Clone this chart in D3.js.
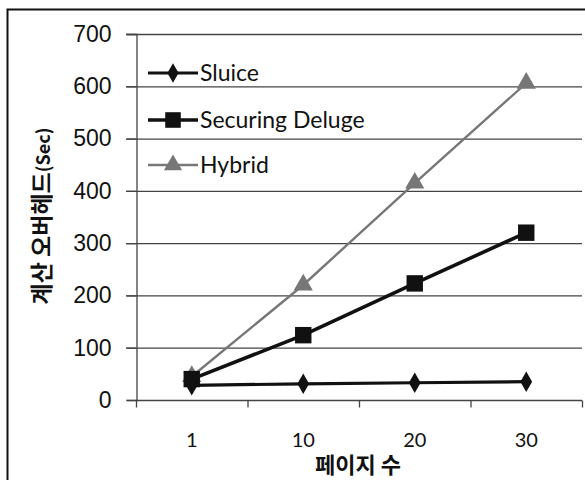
<!DOCTYPE html>
<html>
<head>
<meta charset="utf-8">
<style>
  body { margin: 0; background: #fff; }
  svg { font-family: Lato, "Noto Sans", sans-serif; }
</style>
</head>
<body>
<div id="chart"></div>
<script src="https://d3js.org/d3.v7.min.js"></script>
<script>
var categories = ["1", "10", "20", "30"];
var sluice = [28, 31, 33, 35];
var deluge = [40, 124, 223, 320];
var hybrid = [45, 220, 415, 606];
var yTicks = [0, 100, 200, 300, 400, 500, 600, 700];
var seriesNames = ["Sluice", "Securing Deluge", "Hybrid"];

var width = 585, height = 480;
var svg = d3.select("#chart").append("svg")
  .attr("width", width).attr("height", height);

// outer frame (continues past the right/bottom edge)
svg.append("rect")
  .attr("x", 7.5).attr("y", 9.5).attr("width", 600).attr("height", 500)
  .attr("fill", "none").attr("stroke", "#111").attr("stroke-width", 2);

var x = d3.scaleBand().domain(categories).range([136, 582]);
var y = d3.scaleLinear().domain([0, 700]).range([400, 34]);

// gridlines
svg.append("g")
  .selectAll("line").data(yTicks.slice(1)).enter().append("line")
  .attr("x1", 126).attr("x2", 582)
  .attr("y1", d => y(d) + 0.5).attr("y2", d => y(d) + 0.5)
  .attr("stroke", "#444").attr("stroke-width", 1.3);

// y axis
var yAxis = svg.append("g").attr("transform", "translate(136.5,0)")
  .call(d3.axisLeft(y).tickValues(yTicks).tickSize(10).tickPadding(15));
yAxis.select(".domain").attr("stroke", "#444").attr("stroke-width", 1.3);
yAxis.selectAll(".tick line").attr("stroke", "#444").attr("stroke-width", 1.3);
yAxis.selectAll("text").attr("font-size", 23).attr("fill", "#111");

// x axis
var xAxis = svg.append("g").attr("transform", "translate(0,400.5)");
xAxis.append("line").attr("x1", 136).attr("x2", 582)
  .attr("stroke", "#444").attr("stroke-width", 1.3);
var tickPos = categories.map(c => x(c)).concat([x.range()[1]]);
xAxis.selectAll("line.tk").data(tickPos).enter().append("line")
  .attr("class", "tk")
  .attr("x1", d => d + 0.5).attr("x2", d => d + 0.5)
  .attr("y1", 0).attr("y2", 7)
  .attr("stroke", "#444").attr("stroke-width", 1.3);
xAxis.selectAll("text").data(categories).enter().append("text")
  .attr("x", d => x(d) + x.bandwidth() / 2)
  .attr("y", 46)
  .attr("text-anchor", "middle")
  .attr("font-size", 20).attr("fill", "#111")
  .text(d => d);

// axis titles
svg.append("text")
  .attr("x", 358).attr("y", 473)
  .attr("text-anchor", "middle")
  .attr("font-family", "'Noto Sans CJK KR', sans-serif")
  .attr("font-weight", "bold").attr("font-size", 22).attr("fill", "#111")
  .text("페이지 수");

var yt = svg.append("text")
  .attr("transform", "translate(50,216) rotate(-90)")
  .attr("text-anchor", "middle")
  .attr("font-family", "'Noto Sans CJK KR', sans-serif")
  .attr("font-weight", "bold").attr("font-size", 23).attr("fill", "#111");
yt.append("tspan").text("계산 오버헤드");
yt.append("tspan").attr("font-size", 18).text("(Sec)");

var cx = d => x(d) + x.bandwidth() / 2;
var line = d3.line().x((d, i) => cx(categories[i])).y(d => y(d));

var styles = [
  { data: sluice, color: "#111", width: 3.2, shape: d3.symbolDiamond, size: 120 },
  { data: deluge, color: "#111", width: 3.6, shape: d3.symbolSquare, size: 270 },
  { data: hybrid, color: "#777", width: 2.4, shape: d3.symbolTriangle, size: 160 }
];

[2, 1, 0].forEach(function (k) {
  var s = styles[k];
  svg.append("path").datum(s.data)
    .attr("d", line).attr("fill", "none")
    .attr("stroke", s.color).attr("stroke-width", s.width);
  svg.selectAll(null).data(s.data).enter().append("path")
    .attr("d", d3.symbol().type(s.shape).size(s.size))
    .attr("transform", (d, i) => "translate(" + cx(categories[i]) + "," + y(d) + ")")
    .attr("fill", s.color);
});

// legend
var legY = [73, 120, 165];
seriesNames.forEach(function (name, k) {
  var s = styles[k];
  var g = svg.append("g").attr("transform", "translate(148," + legY[k] + ")");
  g.append("line").attr("x1", 0).attr("x2", 50)
    .attr("stroke", s.color).attr("stroke-width", s.width);
  g.append("path")
    .attr("d", d3.symbol().type(s.shape).size(s.size * 0.9))
    .attr("transform", "translate(25,0)")
    .attr("fill", s.color);
  g.append("text").attr("x", 52).attr("y", 7.5)
    .attr("font-size", 23).attr("fill", "#111")
    .text(name);
});
</script>
</body>
</html>
